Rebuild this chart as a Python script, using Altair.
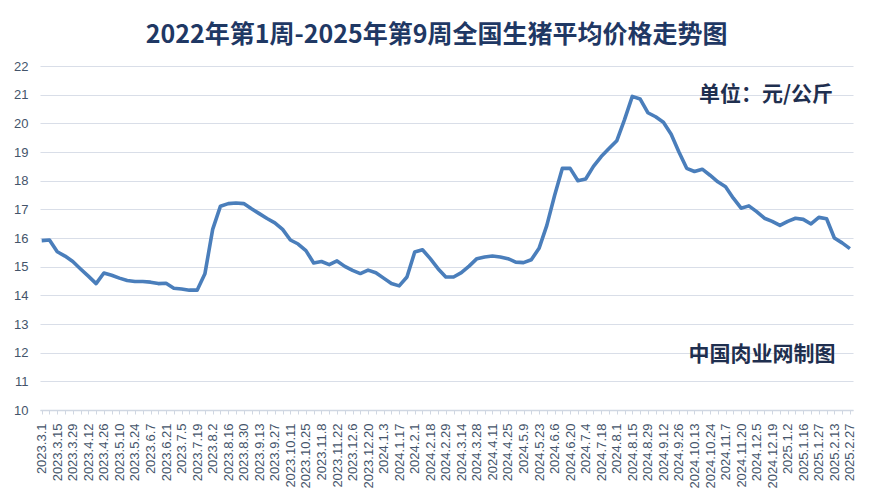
import json
import altair as alt
import pandas as pd

# Bi-weekly tick labels (every other weekly data point)
tick_labels = [
    "2023.3.1", "2023.3.15", "2023.3.29", "2023.4.12", "2023.4.26", "2023.5.10",
    "2023.5.24", "2023.6.7", "2023.6.21", "2023.7.5", "2023.7.19", "2023.8.2",
    "2023.8.16", "2023.8.30", "2023.9.13", "2023.9.27", "2023.10.11", "2023.10.25",
    "2023.11.8", "2023.11.22", "2023.12.6", "2023.12.20", "2024.1.3", "2024.1.17",
    "2024.2.1", "2024.2.18", "2024.2.29", "2024.3.14", "2024.3.28", "2024.4.11",
    "2024.4.25", "2024.5.9", "2024.5.23", "2024.6.6", "2024.6.20", "2024.7.4",
    "2024.7.18", "2024.8.1", "2024.8.15", "2024.8.29", "2024.9.12", "2024.9.26",
    "2024.10.13", "2024.10.24", "2024.11.7", "2024.11.20", "2024.12.5", "2024.12.19",
    "2025.1.2", "2025.1.16", "2025.1.27", "2025.2.13", "2025.2.27",
]

# Weekly national average live hog price (元/公斤)
prices = [
    15.91, 15.93, 15.52, 15.37, 15.18, 14.92, 14.67, 14.41, 14.78, 14.70,
    14.60, 14.52, 14.48, 14.48, 14.46, 14.41, 14.42, 14.25, 14.22, 14.18,
    14.18, 14.75, 16.30, 17.11, 17.20, 17.22, 17.20, 17.02, 16.85, 16.68,
    16.53, 16.30, 15.93, 15.79, 15.56, 15.13, 15.18, 15.07, 15.20, 15.01,
    14.87, 14.76, 14.88, 14.79, 14.60, 14.41, 14.33, 14.64, 15.51, 15.59,
    15.28, 14.93, 14.64, 14.64, 14.79, 15.02, 15.28, 15.34, 15.37, 15.34,
    15.28, 15.16, 15.14, 15.24, 15.64, 16.44, 17.48, 18.43, 18.43, 18.00,
    18.06, 18.50, 18.84, 19.12, 19.39, 20.13, 20.94, 20.85, 20.37, 20.23,
    20.04, 19.62, 19.00, 18.43, 18.32, 18.40, 18.19, 17.96, 17.79, 17.39,
    17.04, 17.12, 16.92, 16.69, 16.58, 16.44, 16.58, 16.69, 16.65, 16.49,
    16.72, 16.67, 16.00, 15.83, 15.63,
]

title_text = "2022年第1周-2025年第9周全国生猪平均价格走势图"
unit_text = "单位：元/公斤"
source_text = "中国肉业网制图"

df = pd.DataFrame({"week": list(range(len(prices))), "price": prices})

label_expr = (
    "datum.value % 2 == 0 ? "
    + json.dumps(tick_labels, ensure_ascii=False)
    + "[datum.value / 2] : ''"
)

axis_color = "#44546A"
x_scale = alt.Scale(domain=[-0.22, 104.4], nice=False, zero=False)
y_scale = alt.Scale(domain=[10, 22], nice=False, zero=False)

line = alt.Chart(df).mark_line(color="#4A7EBB", strokeWidth=3.6, strokeJoin="round").encode(
    x=alt.X(
        "week:Q",
        scale=x_scale,
        axis=alt.Axis(
            title=None,
            values=list(range(len(prices))),
            labelExpr=label_expr,
            labelAngle=-90,
            labelFont="Liberation Sans",
            labelFontSize=13,
            labelColor=axis_color,
            labelPadding=9,
            labelOverlap=False,
            labelFlush=False,
            labelBound=False,
            grid=False,
            domainColor="#D0D7E2",
            domainWidth=1.5,
            tickColor="#D0D7E2",
            tickSize=4,
        ),
    ),
    y=alt.Y(
        "price:Q",
        scale=y_scale,
        axis=alt.Axis(
            title=None,
            values=list(range(10, 23)),
            labelFont="Liberation Sans",
            labelFontSize=13,
            labelColor=axis_color,
            labelPadding=12,
            labelOverlap=False,
            domain=False,
            ticks=False,
            grid=True,
            gridColor="#D9DEE8",
            gridWidth=1.2,
        ),
    ),
)

unit = alt.Chart(pd.DataFrame({"t": [unit_text]})).mark_text(
    font="Noto Sans CJK SC", fontWeight="bold", fontSize=21,
    color="#1F2F4F", align="center", baseline="middle",
).encode(text="t:N", x=alt.value(726), y=alt.value(29))

source = alt.Chart(pd.DataFrame({"t": [source_text]})).mark_text(
    font="Noto Sans CJK SC", fontWeight="bold", fontSize=21,
    color="#1F2F4F", align="center", baseline="middle",
).encode(text="t:N", x=alt.value(722), y=alt.value(289))

chart = alt.layer(line, unit, source).properties(
    width=813,
    height=344,
    autosize=alt.AutoSizeParams(type="none"),
    padding={"left": 32, "top": 58, "right": 10, "bottom": 80},
    background="white",
    title=alt.TitleParams(
        text=title_text,
        font="Noto Sans CJK SC",
        fontWeight="bold",
        fontSize=25,
        color="#1F3864",
        anchor="middle",
        dx=-10,
        offset=12,
    ),
).configure_view(stroke=None)

chart.save("out.html", embed_options={"renderer": "svg", "actions": False})
